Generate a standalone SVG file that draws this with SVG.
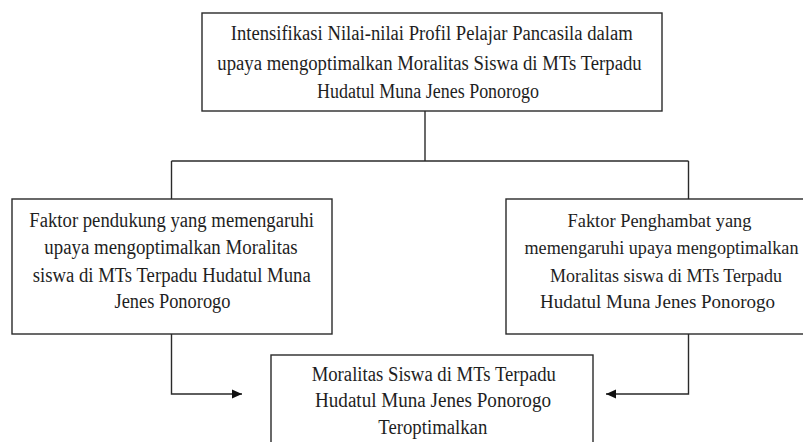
<svg xmlns="http://www.w3.org/2000/svg" width="803" height="442" viewBox="0 0 803 442">
  <style>
    .box { fill: #ffffff; stroke: #2a2a2a; stroke-width: 1.4; }
    .conn { fill: none; stroke: #2a2a2a; stroke-width: 1.4; }
    text { font-family: "Liberation Serif", "Times New Roman", "DejaVu Serif", serif; fill: #1e1e1e; text-anchor: middle; }
    .t1 { font-size: 20px; }
    .t2 { font-size: 20.5px; }
    .t3 { font-size: 18.5px; }
  </style>
  <defs>
    <marker id="arrow" markerUnits="userSpaceOnUse" markerWidth="12" markerHeight="10" refX="10" refY="5" orient="auto">
      <path d="M0,0.5 L10,5 L0,9.5 Z" fill="#111111"/>
    </marker>
  </defs>
  <rect width="803" height="442" fill="#ffffff"/>

  <g id="connectors">
    <path class="conn" d="M425,111 V161"/>
    <path class="conn" d="M171.5,161 H688.5"/>
    <path class="conn" d="M171.5,161 V199"/>
    <path class="conn" d="M688.5,161 V199"/>
    <path class="conn" d="M171.5,334 V394 H242" marker-end="url(#arrow)"/>
    <path class="conn" d="M688.5,334 V394 H606" marker-end="url(#arrow)"/>
  </g>

  <g id="node-top">
    <rect class="box" x="202" y="13" width="460" height="98"/>
    <text class="t1" x="431.7" y="40" textLength="402" lengthAdjust="spacingAndGlyphs">Intensifikasi Nilai-nilai Profil Pelajar Pancasila dalam</text>
    <text class="t1" x="429.5" y="69.5" textLength="424.4" lengthAdjust="spacingAndGlyphs">upaya mengoptimalkan Moralitas Siswa di MTs Terpadu</text>
    <text class="t1" x="428" y="98" textLength="222" lengthAdjust="spacingAndGlyphs">Hudatul Muna Jenes Ponorogo</text>
  </g>

  <g id="node-pendukung">
    <rect class="box" x="12" y="199" width="320" height="135"/>
    <text class="t2" x="171.7" y="226.7" textLength="284.7" lengthAdjust="spacingAndGlyphs">Faktor pendukung yang memengaruhi</text>
    <text class="t2" x="171" y="254" textLength="253.4" lengthAdjust="spacingAndGlyphs">upaya mengoptimalkan Moralitas</text>
    <text class="t2" x="171.7" y="281.7" textLength="278" lengthAdjust="spacingAndGlyphs">siswa di MTs Terpadu Hudatul Muna</text>
    <text class="t2" x="172.5" y="308.3" textLength="116" lengthAdjust="spacingAndGlyphs">Jenes Ponorogo</text>
  </g>

  <g id="node-penghambat">
    <rect class="box" x="506" y="199" width="310" height="135"/>
    <text class="t3" x="659.5" y="226.7" textLength="184" lengthAdjust="spacingAndGlyphs">Faktor Penghambat yang</text>
    <text class="t3" x="661.5" y="254" textLength="274" lengthAdjust="spacingAndGlyphs">memengaruhi upaya mengoptimalkan</text>
    <text class="t3" x="666" y="281.7" textLength="232" lengthAdjust="spacingAndGlyphs">Moralitas siswa di MTs Terpadu</text>
    <text class="t3" x="657.5" y="308.3" textLength="235" lengthAdjust="spacingAndGlyphs">Hudatul Muna Jenes Ponorogo</text>
  </g>

  <g id="node-hasil">
    <rect class="box" x="271" y="355" width="322" height="100"/>
    <text class="t2" x="433.8" y="380.7" textLength="244.3" lengthAdjust="spacingAndGlyphs">Moralitas Siswa di MTs Terpadu</text>
    <text class="t2" x="433" y="407.3" textLength="236" lengthAdjust="spacingAndGlyphs">Hudatul Muna Jenes Ponorogo</text>
    <text class="t2" x="432.8" y="434" textLength="109" lengthAdjust="spacingAndGlyphs">Teroptimalkan</text>
  </g>
</svg>
